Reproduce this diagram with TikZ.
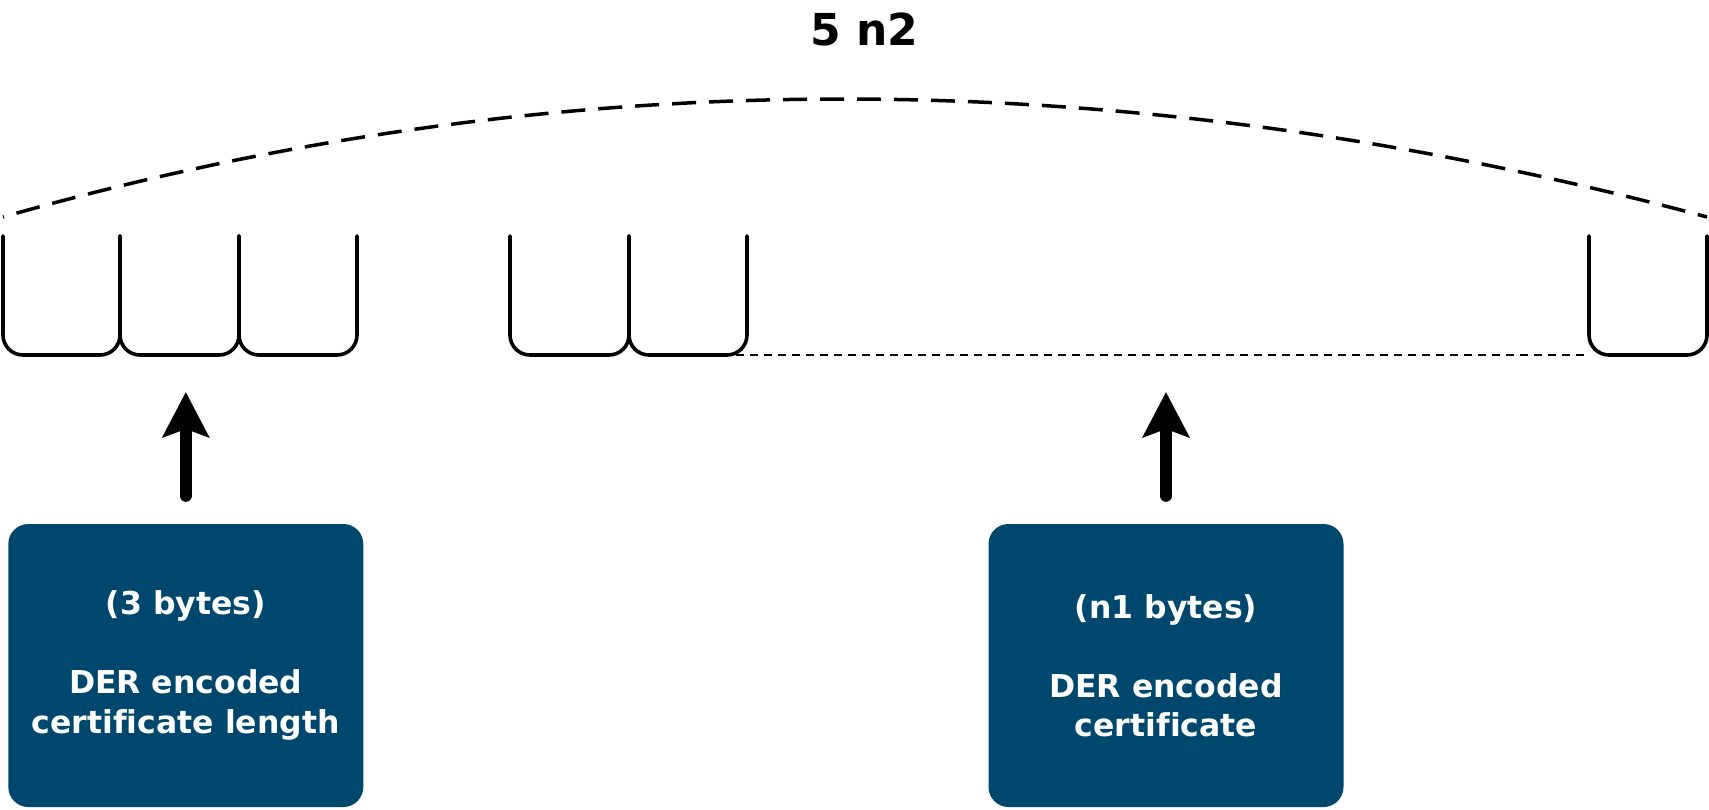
\documentclass[tikz,border=0pt]{standalone}
\usepackage{fontspec}
\setmainfont{DejaVu Sans}[Ligatures=NoCommon]
\usetikzlibrary{arrows.meta}
\definecolor{boxblue}{RGB}{0,71,110}
\begin{document}
\begin{tikzpicture}[x=1pt,y=-1pt,
  cellline/.style={line width=3.6pt, rounded corners=20pt, line cap=round},
  infobox/.style={fill=boxblue, rounded corners=20pt, minimum width=355pt,
    minimum height=283pt, text=white, inner sep=0pt, align=center,
    font=\fontsize{31.5}{39.5}\selectfont\bfseries},
  bigarrow/.style={line width=12pt, line cap=round,
    -{Stealth[length=45pt,width=46pt,inset=8pt]}, shorten <=28pt},
  spanarc/.style={line width=3.5pt, dash pattern=on 24pt off 13pt, dash phase=23pt},
  gapline/.style={line width=2.5pt, dash pattern=on 8pt off 6pt},
  titletext/.style={font=\fontsize{44}{52}\selectfont\bfseries, anchor=base}
]
\useasboundingbox (0,0) rectangle (1709,809);

% title
\node[titletext] (title) at (864,45) {5 n2};

% span arc
\draw[spanarc] (3,217) .. controls (555,59.7) and (1123,59.7) .. (1707,217);

% byte cells
\foreach \a/\b in {3/120,120/239,239/357,510/629,629/747,1589/1707}{
  \draw[cellline] (\a,236) -- (\a,355) -- (\b,355) -- (\b,236);
}
\draw[gapline] (736,355) -- (1589,355);

% boxes
\node[infobox] (lenbox) at (185.8,665.5) {(3 bytes)\\[39.5pt]DER encoded\\certificate length};
\node[infobox] (certbox) at (1166,665.5) {(n1 bytes)\\[39.5pt]DER encoded\\certificate};

% arrow targets
\coordinate (lentip) at (185.8,392);
\coordinate (certtip) at (1166,392);

\draw[bigarrow] (lenbox.north) -- (lentip);
\draw[bigarrow] (certbox.north) -- (certtip);
\end{tikzpicture}
\end{document}
